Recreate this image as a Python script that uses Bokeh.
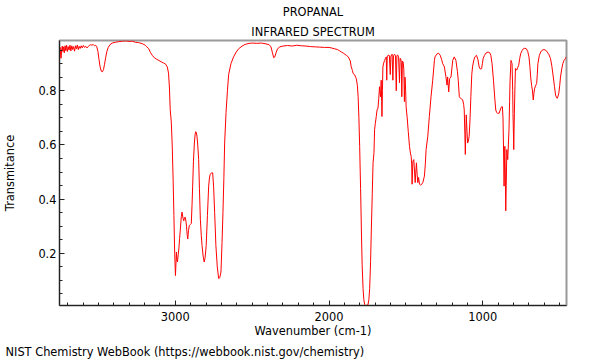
from bokeh.plotting import figure
from bokeh.models import Range1d, FixedTicker, Title
from bokeh.embed import file_html
from bokeh.resources import INLINE

# ---- data (wavenumber in cm-1, transmittance) ----
wavenumber = [
    3752, 3749, 3746, 3743, 3739, 3735, 3731, 3727, 3722, 3717, 3712, 3707, 3702, 3697,
    3691, 3685, 3679, 3673, 3667, 3661, 3655, 3649, 3643, 3637, 3631, 3625, 3619, 3612,
    3605, 3598, 3590, 3582, 3574, 3566, 3558, 3550, 3542, 3534, 3526, 3518, 3511, 3503,
    3496, 3489, 3481, 3474, 3467, 3460, 3453, 3445, 3436, 3425, 3410, 3390, 3370, 3345,
    3320, 3300, 3280, 3260, 3240, 3215, 3195, 3185, 3173, 3162, 3150, 3135, 3120, 3107,
    3092, 3078, 3064, 3052, 3044, 3038, 3033, 3026, 3020, 3014, 3009, 3004, 2999, 2995,
    2993, 2989, 2986, 2981, 2977, 2972, 2967, 2961, 2956, 2950, 2945, 2940, 2935, 2930,
    2927, 2923, 2919, 2914, 2909, 2903, 2896, 2891, 2887, 2882, 2876, 2871, 2867, 2863,
    2859, 2854, 2848, 2843, 2837, 2831, 2826, 2819, 2812, 2806, 2799, 2791, 2783, 2778,
    2773, 2765, 2757, 2751, 2744, 2736, 2727, 2718, 2711, 2703, 2696, 2690, 2684, 2679,
    2670, 2661, 2653, 2638, 2621, 2605, 2588, 2565, 2546, 2520, 2500, 2470, 2440, 2410,
    2390, 2378, 2368, 2360, 2353, 2345, 2335, 2320, 2300, 2270, 2240, 2210, 2180, 2150,
    2120, 2090, 2060, 2030, 2000, 1985, 1965, 1945, 1930, 1920, 1905, 1888, 1875, 1862,
    1856, 1848, 1844, 1835, 1823, 1816, 1811, 1806, 1801, 1795, 1790, 1785, 1779, 1774,
    1769, 1762, 1755, 1747, 1741, 1736, 1730, 1725, 1719, 1714, 1708, 1704, 1699, 1693,
    1688, 1682, 1677, 1672, 1668, 1665, 1661, 1658, 1656, 1653, 1650, 1645, 1639, 1633,
    1628, 1625, 1622, 1615, 1608, 1602, 1598, 1590, 1585, 1581, 1574, 1568, 1563, 1559,
    1554, 1548, 1542, 1538, 1534, 1530, 1527, 1523, 1518, 1514, 1510, 1506, 1502, 1499,
    1492, 1485, 1477, 1471, 1466, 1463, 1460, 1455, 1449, 1444, 1440, 1436, 1432, 1427,
    1423, 1418, 1412, 1405, 1397, 1390, 1380, 1374, 1369, 1358, 1348, 1337, 1326, 1315,
    1311, 1300, 1289, 1277, 1268, 1261, 1250, 1240, 1233, 1229, 1222, 1216, 1207, 1196,
    1186, 1175, 1165, 1160, 1153, 1145, 1138, 1131, 1125, 1121, 1117, 1114, 1111, 1108,
    1103, 1099, 1094, 1089, 1083, 1078, 1072, 1067, 1060, 1052, 1041, 1032, 1024, 1016,
    1008, 1003, 998, 990, 980, 966, 955, 948, 940, 931, 922, 916, 910, 905,
    894, 883, 876, 873, 869, 866, 862, 857, 854, 851, 848, 844, 841, 838,
    834, 830, 826, 823, 817, 813, 810, 806, 804, 801, 799, 797, 795, 791,
    788, 784, 780, 774, 767, 760, 754, 745, 737, 727, 717, 708, 700, 694,
    689, 683, 678, 672, 668, 663, 656, 650, 646, 642, 633, 624, 614, 603,
    592, 581, 570, 560, 551, 542, 534, 527, 520, 516, 511, 506, 500, 495,
    487, 480, 472, 463, 458,
]
transmittance = [
    0.950, 0.960, 0.935, 0.920, 0.950, 0.965, 0.945, 0.962, 0.940, 0.966, 0.948, 0.968, 0.945, 0.963,
    0.950, 0.968, 0.947, 0.966, 0.952, 0.963, 0.946, 0.966, 0.955, 0.969, 0.952, 0.964, 0.956, 0.966,
    0.958, 0.967, 0.960, 0.964, 0.958, 0.963, 0.968, 0.970, 0.968, 0.971, 0.966, 0.968, 0.963, 0.945,
    0.915, 0.888, 0.872, 0.870, 0.878, 0.898, 0.922, 0.945, 0.960, 0.970, 0.976, 0.979, 0.981, 0.983,
    0.984, 0.982, 0.983, 0.979, 0.978, 0.974, 0.968, 0.962, 0.955, 0.942, 0.931, 0.921, 0.916, 0.912,
    0.907, 0.903, 0.899, 0.888, 0.865, 0.810, 0.730, 0.685, 0.600, 0.470, 0.340, 0.200, 0.118, 0.170,
    0.205, 0.175, 0.168, 0.195, 0.216, 0.255, 0.290, 0.335, 0.352, 0.330, 0.320, 0.332, 0.333, 0.315,
    0.300, 0.270, 0.253, 0.285, 0.302, 0.306, 0.310, 0.380, 0.448, 0.540, 0.607, 0.640, 0.649, 0.645,
    0.632, 0.600, 0.546, 0.440, 0.326, 0.265, 0.229, 0.190, 0.168, 0.185, 0.229, 0.340, 0.448, 0.478,
    0.491, 0.497, 0.497, 0.448, 0.350, 0.229, 0.150, 0.107, 0.110, 0.131, 0.240, 0.351, 0.480, 0.607,
    0.720, 0.800, 0.860, 0.900, 0.925, 0.942, 0.955, 0.965, 0.971, 0.975, 0.976, 0.975, 0.976, 0.973,
    0.970, 0.962, 0.940, 0.922, 0.925, 0.940, 0.955, 0.962, 0.965, 0.967, 0.965, 0.968, 0.966, 0.965,
    0.963, 0.962, 0.961, 0.960, 0.960, 0.958, 0.955, 0.952, 0.947, 0.943, 0.938, 0.931, 0.925, 0.910,
    0.888, 0.875, 0.864, 0.860, 0.845, 0.820, 0.778, 0.700, 0.595, 0.440, 0.290, 0.160, 0.070, 0.030,
    0.012, 0.008, 0.008, 0.010, 0.030, 0.070, 0.170, 0.290, 0.420, 0.534, 0.571, 0.656, 0.680, 0.705,
    0.729, 0.736, 0.770, 0.815, 0.790, 0.778, 0.839, 0.760, 0.705, 0.800, 0.888, 0.902, 0.912, 0.920,
    0.925, 0.839, 0.925, 0.932, 0.930, 0.860, 0.928, 0.935, 0.839, 0.930, 0.935, 0.928, 0.800, 0.930,
    0.932, 0.925, 0.830, 0.920, 0.918, 0.905, 0.778, 0.910, 0.905, 0.880, 0.760, 0.850, 0.800, 0.741,
    0.700, 0.650, 0.595, 0.570, 0.558, 0.530, 0.455, 0.540, 0.546, 0.500, 0.461, 0.500, 0.534, 0.490,
    0.461, 0.480, 0.455, 0.452, 0.455, 0.462, 0.485, 0.530, 0.583, 0.632, 0.705, 0.778, 0.839, 0.912,
    0.925, 0.935, 0.939, 0.931, 0.915, 0.900, 0.888, 0.851, 0.821, 0.851, 0.796, 0.845, 0.851, 0.912,
    0.925, 0.912, 0.870, 0.839, 0.778, 0.772, 0.770, 0.766, 0.750, 0.729, 0.640, 0.565, 0.640, 0.711,
    0.650, 0.607, 0.615, 0.632, 0.700, 0.778, 0.860, 0.888, 0.910, 0.925, 0.931, 0.915, 0.888, 0.880,
    0.882, 0.900, 0.919, 0.930, 0.939, 0.943, 0.940, 0.931, 0.900, 0.839, 0.770, 0.729, 0.720, 0.717,
    0.717, 0.736, 0.742, 0.741, 0.700, 0.607, 0.448, 0.595, 0.500, 0.357, 0.450, 0.583, 0.560, 0.546,
    0.600, 0.656, 0.760, 0.839, 0.912, 0.905, 0.900, 0.800, 0.717, 0.640, 0.583, 0.650, 0.717, 0.820,
    0.882, 0.880, 0.876, 0.885, 0.894, 0.920, 0.937, 0.948, 0.955, 0.957, 0.955, 0.945, 0.925, 0.890,
    0.851, 0.820, 0.803, 0.766, 0.790, 0.809, 0.820, 0.827, 0.860, 0.900, 0.930, 0.943, 0.950, 0.952,
    0.950, 0.943, 0.933, 0.919, 0.890, 0.851, 0.815, 0.784, 0.774, 0.772, 0.780, 0.791, 0.820, 0.851,
    0.880, 0.900, 0.912, 0.919, 0.925,
]

x_major_ticks = [1000, 2000, 3000]
x_minor_ticks = list(range(500, 3800, 100))
y_major_ticks = [0.2, 0.4, 0.6, 0.8]
y_minor_ticks = [round(0.05 * i, 2) for i in range(1, 20)]

title_line1 = "PROPANAL"
title_line2 = "INFRARED SPECTRUM"
x_label = "Wavenumber (cm-1)"
y_label = "Transmitance"
footer = "NIST Chemistry WebBook (https://webbook.nist.gov/chemistry)"

FONT = "DejaVu Sans"
FS = "11.4px"

p = figure(
    width=600, height=360,
    x_range=Range1d(3753, 456), y_range=Range1d(0.0075, 0.9855),
    output_backend="svg", toolbar_location=None,
    min_border_left=57, min_border_right=34, min_border_top=40, min_border_bottom=53,
)
p.title.visible = False
p.grid.visible = False
p.background_fill_color = "white"
p.border_fill_color = "white"
p.outline_line_color = "#999999"
p.outline_line_width = 2

p.line(wavenumber, transmittance, line_color="#ff0000", line_width=1)

for ax in (p.xaxis[0], p.yaxis[0]):
    ax.axis_line_color = "#222222"
    ax.major_tick_line_color = "#222222"
    ax.minor_tick_line_color = "#222222"
    ax.major_tick_in = 5
    ax.major_tick_out = 0
    ax.minor_tick_in = 3
    ax.minor_tick_out = 0
    ax.major_label_text_font = FONT
    ax.major_label_text_font_size = FS
    ax.major_label_text_color = "black"
    ax.axis_label_text_font = FONT
    ax.axis_label_text_font_size = FS
    ax.axis_label_text_font_style = "normal"
    ax.axis_label_text_color = "black"

p.xaxis.ticker = FixedTicker(ticks=x_major_ticks, minor_ticks=x_minor_ticks)
p.yaxis.ticker = FixedTicker(ticks=y_major_ticks, minor_ticks=y_minor_ticks)
p.xaxis.major_label_standoff = 6
p.yaxis.major_label_standoff = 3
p.xaxis.axis_label = x_label
p.yaxis.axis_label = y_label
p.xaxis.axis_label_standoff = 0
p.yaxis.axis_label_standoff = 18


def make_title(txt, align="center", standoff=0, offset=0):
    return Title(text=txt, align=align, standoff=standoff, offset=offset,
                 text_font=FONT, text_font_size=FS, text_font_style="normal",
                 text_color="black")


p.add_layout(make_title(title_line2, standoff=4), "above")
p.add_layout(make_title(title_line1, standoff=3), "above")
p.add_layout(make_title(footer, align="left", standoff=4, offset=-54), "below")

open("out.html", "w").write(file_html(p, INLINE))
